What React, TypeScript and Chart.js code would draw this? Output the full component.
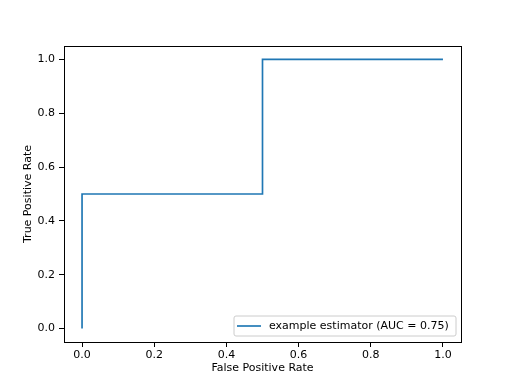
import React, { useEffect, useRef } from "react";
import { Chart, registerables } from "chart.js";

Chart.register(...registerables);

const fprValues = [0, 0, 0.5, 0.5, 1];
const tprValues = [0, 0.5, 0.5, 1, 1];
const tickValues = [0, 0.2, 0.4, 0.6, 0.8, 1.0];
const seriesLabel = "example estimator (AUC = 0.75)";
const xTitle = "False Positive Rate";
const yTitle = "True Positive Rate";

const FONT = "'DejaVu Sans', sans-serif";
const LINE_COLOR = "#1f77b4";

const framePlugin = {
  id: "frame",
  afterDraw(chart: any) {
    const { ctx, chartArea: a } = chart;
    ctx.save();
    ctx.strokeStyle = "#000";
    ctx.lineWidth = 1;
    ctx.strokeRect(Math.round(a.left) + 0.5, Math.round(a.top) + 0.5, Math.round(a.right - a.left), Math.round(a.bottom - a.top));
    // legend
    const x0 = a.right - 227, y0 = a.bottom - 26, w = 222, h = 20;
    ctx.beginPath();
    const r = 2;
    ctx.moveTo(x0 + r, y0);
    ctx.arcTo(x0 + w, y0, x0 + w, y0 + h, r);
    ctx.arcTo(x0 + w, y0 + h, x0, y0 + h, r);
    ctx.arcTo(x0, y0 + h, x0, y0, r);
    ctx.arcTo(x0, y0, x0 + w, y0, r);
    ctx.closePath();
    ctx.fillStyle = "rgba(255,255,255,0.8)";
    ctx.fill();
    ctx.strokeStyle = "#cccccc";
    ctx.lineWidth = 1;
    ctx.stroke();
    ctx.beginPath();
    ctx.moveTo(x0 + 3, y0 + 10);
    ctx.lineTo(x0 + 27, y0 + 10);
    ctx.strokeStyle = LINE_COLOR;
    ctx.lineWidth = 1.67;
    ctx.stroke();
    ctx.fillStyle = "#000";
    ctx.font = `11px ${FONT}`;
    ctx.textBaseline = "middle";
    ctx.fillText(chart.data.datasets[0].label, x0 + 35, y0 + 10.5);
    ctx.restore();
  },
};

export default function App() {
  const ref = useRef<HTMLCanvasElement>(null);
  useEffect(() => {
    document.body.style.margin = "0";
    const chart = new Chart(ref.current!, {
      type: "scatter",
      data: {
        datasets: [
          {
            label: seriesLabel,
            data: fprValues.map((x, i) => ({ x, y: tprValues[i] })),
            showLine: true,
            borderColor: LINE_COLOR,
            backgroundColor: LINE_COLOR,
            borderWidth: 1.67,
            pointRadius: 0,
            fill: false,
          },
        ],
      },
      options: {
        responsive: false,
        animation: false,
        layout: { padding: { left: 0, top: 46, right: 51, bottom: 0 } },
        plugins: { legend: { display: false }, tooltip: { enabled: false } },
        scales: {
          x: {
            type: "linear",
            min: -0.05,
            max: 1.05,
            afterBuildTicks: (s: any) => {
              s.ticks = tickValues.map((v) => ({ value: v }));
            },
            afterFit: (s: any) => {
              s.height = 42;
            },
            grid: { display: true, drawOnChartArea: false, drawTicks: true, tickLength: 5, color: "#000", tickColor: "#000" },
            border: { display: true, color: "#000" },
            ticks: {
              color: "#000",
              font: { family: FONT, size: 11 },
              padding: 2,
              maxRotation: 0,
              callback: (v: any) => Number(v).toFixed(1),
            },
            title: { display: true, text: xTitle, color: "#000", font: { family: FONT, size: 11 }, padding: { top: 9, bottom: 9 } },
          },
          y: {
            type: "linear",
            min: -0.05,
            max: 1.05,
            afterBuildTicks: (s: any) => {
              s.ticks = tickValues.map((v) => ({ value: v }));
            },
            afterFit: (s: any) => {
              s.width = 64;
            },
            grid: { display: true, drawOnChartArea: false, drawTicks: true, tickLength: 5, color: "#000", tickColor: "#000" },
            border: { display: true, color: "#000" },
            ticks: {
              color: "#000",
              font: { family: FONT, size: 11 },
              padding: 4,
              callback: (v: any) => Number(v).toFixed(1),
            },
            title: { display: true, text: yTitle, color: "#000", font: { family: FONT, size: 11 }, padding: { top: 22, bottom: 22 } },
          },
        },
      },
      plugins: [framePlugin],
    });
    return () => chart.destroy();
  }, []);
  return <canvas ref={ref} width={512} height={384} style={{ display: "block" }} />;
}
